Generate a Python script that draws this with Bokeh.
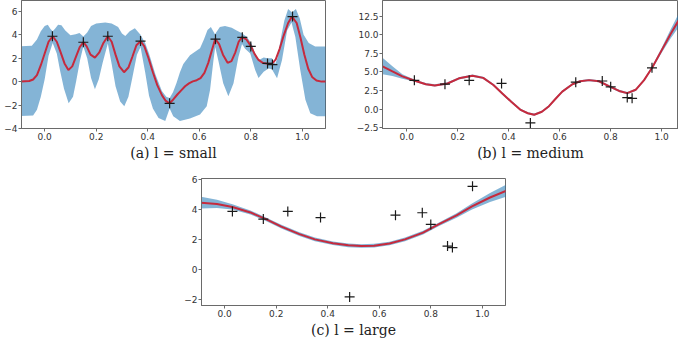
from bokeh.plotting import figure
from bokeh.models import FixedTicker, Spacer
from bokeh.layouts import row, column
from bokeh.embed import file_html
from bokeh.resources import INLINE

# ---------------- data ----------------
# observations (same in all three panels)
PTS_X = [0.03, 0.15, 0.245, 0.372, 0.485, 0.663, 0.767, 0.80, 0.865, 0.884, 0.962]
PTS_Y = [3.87, 3.36, 3.87, 3.46, -1.85, 3.62, 3.78, 3.0, 1.55, 1.45, 5.55]

# panel (a): l = small
A_MEAN_X = [-0.10, -0.06, -0.045, -0.03, -0.015, 0.0, 0.015, 0.031, 0.047, 0.062, 0.077, 0.092,
            0.107, 0.122, 0.136, 0.150, 0.163, 0.178, 0.195, 0.212, 0.228, 0.245, 0.26, 0.275,
            0.29, 0.308, 0.325, 0.34, 0.356, 0.372, 0.387, 0.403, 0.42, 0.437, 0.455, 0.47,
            0.485, 0.50, 0.515, 0.53, 0.545, 0.56, 0.575, 0.59, 0.605, 0.62, 0.635, 0.648,
            0.662, 0.677, 0.692, 0.71, 0.725, 0.74, 0.753, 0.766, 0.783, 0.80, 0.815, 0.83,
            0.848, 0.865, 0.882, 0.897, 0.912, 0.928, 0.945, 0.960, 0.978, 0.993, 1.008, 1.023,
            1.038, 1.055, 1.075, 1.10]
A_MEAN_Y = [0.0, 0.05, 0.18, 0.55, 1.4, 2.4, 3.4, 3.87, 3.4, 2.5, 1.55, 1.0,
            1.3, 2.15, 2.95, 3.36, 3.0, 2.3, 2.05, 2.5, 3.3, 3.87, 3.4, 2.3,
            1.3, 0.8, 1.2, 2.1, 3.1, 3.45, 3.0, 2.0, 0.8, -0.3, -1.15, -1.65,
            -1.85, -1.5, -1.1, -0.75, -0.4, -0.15, 0.02, 0.12, 0.3, 0.75, 1.6, 2.6,
            3.64, 3.2, 2.3, 1.6, 1.75, 2.5, 3.4, 3.8, 3.6, 3.05, 2.35, 1.85,
            1.58, 1.52, 1.52, 1.9, 2.8, 3.95, 5.0, 5.55, 5.0, 3.75, 2.3, 1.1,
            0.4, 0.1, 0.0, 0.0]
A_UP_X = [-0.10, -0.05, -0.03, -0.015, 0.0, 0.012, 0.022, 0.031, 0.04, 0.052, 0.065, 0.08,
          0.10, 0.12, 0.135, 0.15, 0.165, 0.18, 0.20, 0.235, 0.26, 0.285, 0.30, 0.313,
          0.33, 0.35, 0.372, 0.39, 0.405, 0.43, 0.455, 0.472, 0.485, 0.498, 0.512, 0.525,
          0.538, 0.564, 0.603, 0.618, 0.632, 0.645, 0.661, 0.68, 0.70, 0.726, 0.745, 0.764,
          0.785, 0.804, 0.818, 0.832, 0.85, 0.865, 0.882, 0.895, 0.905, 0.915, 0.93, 0.945,
          0.96, 0.975, 0.99, 1.005, 1.025, 1.05, 1.10]
A_UP_Y = [3.0, 3.05, 3.6, 4.3, 4.75, 4.85, 4.5, 4.3, 4.5, 4.85, 4.8, 4.35,
          3.95, 4.05, 4.15, 3.85, 4.2, 4.75, 4.95, 5.05, 4.95, 4.65, 4.1, 3.9,
          4.3, 4.55, 4.0, 3.3, 2.4, 0.6, -0.8, -1.3, -1.4, -0.9, -0.1, 0.8,
          1.5, 2.25, 2.85, 3.6, 4.4, 4.65, 4.05, 4.65, 4.75, 4.6, 4.35, 4.15,
          3.8, 3.2, 2.3, 1.85, 2.05, 2.0, 2.0, 1.5, 2.1, 3.5, 5.2, 6.2,
          5.9, 6.2, 5.4, 4.0, 3.3, 3.0, 3.0]
A_LO_X = [-0.10, -0.045, -0.03, -0.015, 0.0, 0.015, 0.031, 0.047, 0.06, 0.075, 0.093, 0.11,
          0.122, 0.137, 0.150, 0.165, 0.18, 0.195, 0.21, 0.225, 0.245, 0.26, 0.275, 0.293,
          0.309, 0.325, 0.34, 0.358, 0.372, 0.39, 0.405, 0.42, 0.442, 0.468, 0.485, 0.499,
          0.525, 0.564, 0.603, 0.629, 0.642, 0.655, 0.662, 0.674, 0.693, 0.713, 0.733, 0.752,
          0.766, 0.778, 0.798, 0.817, 0.83, 0.85, 0.869, 0.882, 0.902, 0.921, 0.941, 0.958,
          0.973, 0.992, 1.012, 1.031, 1.057, 1.10]
A_LO_Y = [-2.95, -2.9, -2.4, -1.3, 0.2, 2.2, 3.3, 2.4, 0.9, -0.6, -1.85, -1.3,
          0.0, 1.8, 3.0, 2.0, 0.3, -0.65, 0.2, 1.6, 3.25, 1.5, -0.4, -1.7,
          -2.1, -1.3, 0.3, 2.3, 2.95, 0.8, -1.2, -2.3, -3.1, -3.35, -2.3, -2.95,
          -3.35, -3.15, -2.8, -2.1, -0.7, 1.8, 2.95, 1.8, -0.15, -1.25, -0.15, 2.1,
          3.2, 2.8, 2.4, 1.0, 0.3, 0.85, 1.12, 1.05, 0.28, 1.82, 4.35, 5.05,
          3.8, 1.0, -1.55, -2.7, -2.95, -2.95]

# panel (b): l = medium
B_X = [-0.095, -0.056, -0.017, 0.029, 0.075, 0.11, 0.16, 0.205, 0.258, 0.30, 0.34, 0.375,
       0.41, 0.447, 0.475, 0.50, 0.53, 0.558, 0.584, 0.61, 0.65, 0.68, 0.715, 0.754,
       0.793, 0.833, 0.865, 0.898, 0.931, 0.963, 1.003, 1.035, 1.066]
B_MEAN = [5.76, 5.08, 4.41, 3.85, 3.35, 3.18, 3.45, 4.14, 4.5, 4.2, 3.25, 2.1,
          1.0, -0.1, -0.55, -0.75, -0.35, 0.4, 1.4, 2.35, 3.35, 3.75, 3.9, 3.75,
          3.1, 2.45, 2.15, 2.6, 3.9, 5.6, 8.1, 10.1, 11.9]
B_UP = [6.9, 5.75, 4.7, 4.0, 3.5, 3.33, 3.6, 4.29, 4.65, 4.35, 3.4, 2.25,
        1.15, 0.05, -0.4, -0.6, -0.2, 0.55, 1.55, 2.5, 3.5, 3.9, 4.05, 3.9,
        3.25, 2.6, 2.3, 2.75, 4.05, 5.8, 8.45, 10.7, 12.8]
B_LO = [4.7, 4.45, 4.1, 3.7, 3.2, 3.03, 3.3, 3.99, 4.35, 4.05, 3.1, 1.95,
        0.85, -0.25, -0.7, -0.9, -0.5, 0.25, 1.25, 2.2, 3.2, 3.6, 3.75, 3.6,
        2.95, 2.3, 2.0, 2.45, 3.75, 5.4, 7.75, 9.5, 11.0]

# panel (c): l = large
C_X = [-0.10, -0.03, 0.03, 0.10, 0.16, 0.22, 0.29, 0.35, 0.42, 0.48, 0.53, 0.58,
       0.64, 0.70, 0.77, 0.83, 0.90, 0.96, 1.03, 1.10]
C_MEAN = [4.46, 4.37, 4.17, 3.8, 3.35, 2.85, 2.35, 2.0, 1.74, 1.6, 1.56, 1.58,
          1.72, 2.0, 2.45, 3.0, 3.6, 4.2, 4.8, 5.3]
C_UP = [4.88, 4.65, 4.35, 3.93, 3.47, 2.97, 2.47, 2.12, 1.86, 1.72, 1.68, 1.7,
        1.84, 2.12, 2.57, 3.12, 3.75, 4.4, 5.1, 5.72]
C_LO = [4.06, 4.1, 3.99, 3.67, 3.23, 2.73, 2.23, 1.88, 1.62, 1.48, 1.44, 1.46,
        1.6, 1.88, 2.33, 2.88, 3.45, 4.0, 4.5, 4.9]

# ticks
X_TICKS = [0, 0.2, 0.4, 0.6, 0.8, 1]
X_LABELS = ["0.0", "0.2", "0.4", "0.6", "0.8", "1.0"]
A_Y_TICKS = [-4, -2, 0, 2, 4, 6]
A_Y_LABELS = ["\u22124", "\u22122", "0", "2", "4", "6"]
B_Y_TICKS = [-2.5, 0, 2.5, 5, 7.5, 10, 12.5]
B_Y_LABELS = ["\u22122.5", "0.0", "2.5", "5.0", "7.5", "10.0", "12.5"]
C_Y_TICKS = [-2, 0, 2, 4, 6]
C_Y_LABELS = ["\u22122", "0", "2", "4", "6"]

CAPTIONS = ["(a) l = small", "(b) l = medium", "(c) l = large"]

BAND = "#1f77b4"
RED = "#c62a3d"
AX = "#6a6a6a"


def make_fig(width, height, xr, yr, left, right, top, bottom):
    p = figure(width=width, height=height, x_range=xr, y_range=yr,
               output_backend="svg", toolbar_location=None,
               min_border_left=left, min_border_right=right,
               min_border_top=top, min_border_bottom=bottom)
    p.background_fill_color = "white"
    p.border_fill_color = "white"
    p.outline_line_color = AX
    p.outline_line_width = 1
    p.grid.visible = False
    return p


def style(p, yt, yl, caption):
    p.xaxis.ticker = FixedTicker(ticks=X_TICKS)
    p.xaxis.major_label_overrides = dict(zip(X_TICKS, X_LABELS))
    p.yaxis.ticker = FixedTicker(ticks=yt)
    p.yaxis.major_label_overrides = dict(zip(yt, yl))
    for ax in (p.xaxis, p.yaxis):
        ax.axis_line_color = AX
        ax.major_tick_line_color = AX
        ax.major_tick_out = 3
        ax.major_tick_in = 0
        ax.minor_tick_line_color = None
        ax.major_label_text_font = "DejaVu Sans"
        ax.major_label_text_font_size = "9px"
        ax.major_label_text_color = "#333333"
        ax.major_label_standoff = 1
    p.xaxis.axis_label = caption
    p.xaxis.axis_label_text_font = "DejaVu Serif"
    p.xaxis.axis_label_text_font_style = "normal"
    p.xaxis.axis_label_text_font_size = "14px"
    p.xaxis.axis_label_text_color = "#222222"
    p.xaxis.axis_label_standoff = 2


def observations(p):
    p.scatter(PTS_X, PTS_Y, marker="cross", size=10, line_color="#1a1a1a", line_width=1.2)


# (a)
pa = make_fig(343, 168, (-0.09, 1.09), (-4.0, 6.92), 21, 18, 0, 40)
pa.patch(A_UP_X + A_LO_X[::-1], A_UP_Y + A_LO_Y[::-1],
         fill_color=BAND, fill_alpha=0.55, line_color=None)
pa.line(A_MEAN_X, A_MEAN_Y, line_color=RED, line_width=2)
observations(pa)
style(pa, A_Y_TICKS, A_Y_LABELS, CAPTIONS[0])

# (b)
pb = make_fig(335, 168, (-0.095, 1.066), (-2.6, 14.6), 39, 0, 0, 40)
pb.varea(x=B_X, y1=B_LO, y2=B_UP, fill_color=BAND, fill_alpha=0.55)
pb.line(B_X, B_MEAN, line_color=RED, line_width=2)
observations(pb)
style(pb, B_Y_TICKS, B_Y_LABELS, CAPTIONS[1])

# (c)
pc = make_fig(344, 172, (-0.09, 1.09), (-2.42, 6.07), 30, 10, 10, 34)
pc.varea(x=C_X, y1=C_LO, y2=C_UP, fill_color=BAND, fill_alpha=0.55)
pc.line(C_X, C_MEAN, line_color=RED, line_width=2)
observations(pc)
style(pc, C_Y_TICKS, C_Y_LABELS, CAPTIONS[2])

layout = column(row(pa, pb), row(Spacer(width=171, height=172), pc))

open("out.html", "w").write(file_html(layout, INLINE))
